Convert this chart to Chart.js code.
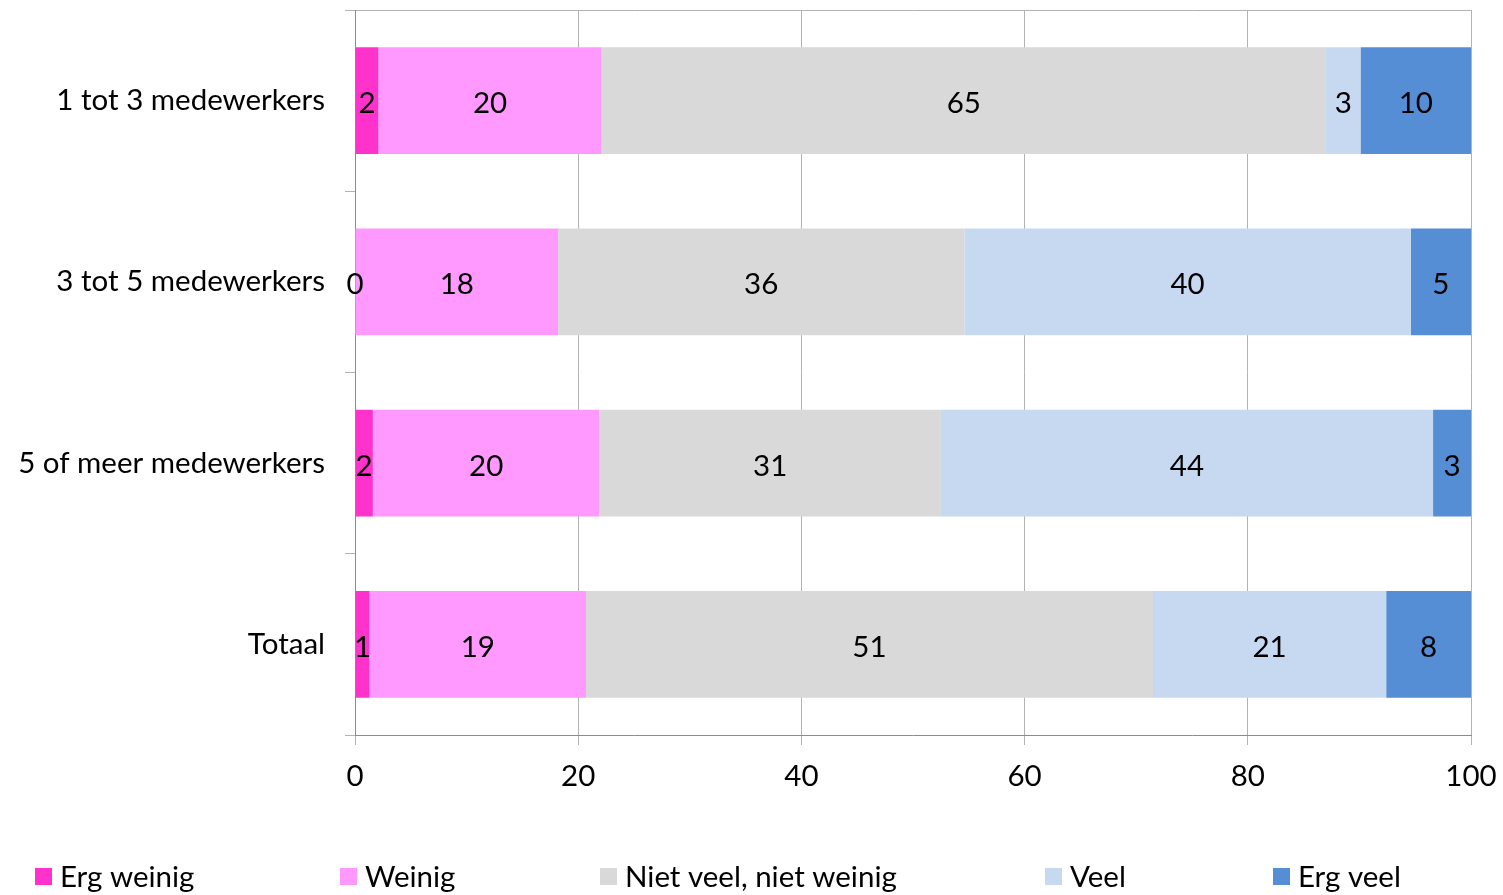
<!DOCTYPE html>
<html>
<head>
<meta charset="utf-8">
<script src="https://cdn.jsdelivr.net/npm/chart.js@4"></script>
<style>
    html, body { margin: 0; padding: 0; background: #fff; overflow: hidden; }
    #wrap { position: relative; width: 1503px; height: 895px; }
</style>
</head>
<body>
<div id="wrap"><canvas id="chart" width="1503" height="895"></canvas></div>
<script>
// Categorieën en reeksen (percentages)
const categorieen = ['1 tot 3 medewerkers', '3 tot 5 medewerkers', '5 of meer medewerkers', 'Totaal'];
const reeksNamen = ['Erg weinig', 'Weinig', 'Niet veel, niet weinig', 'Veel', 'Erg veel'];
const ergWeinig = [2.1, 0, 1.6, 1.3];
const weinig = [20.0, 18.2, 20.3, 19.4];
const nietVeelNietWeinig = [64.9, 36.4, 30.6, 50.8];
const veel = [3.1, 40.0, 44.1, 20.9];
const ergVeel = [9.9, 5.4, 3.4, 7.6];
const xTicks = [0, 20, 40, 60, 80, 100];

const kleuren = ['#FF33CC', '#FF99FF', '#D9D9D9', '#C6D9F1', '#558ED5'];
const legendaX = [35, 340, 600, 1045, 1273];
const FONT = 'Lato, "Open Sans", sans-serif';
const FSIZE = 29.5;

// Waarden in het midden van elk segment tekenen
const dataLabels = {
    id: 'dataLabels',
    afterDatasetsDraw(chart) {
        const ctx = chart.ctx;
        ctx.save();
        ctx.font = FSIZE + 'px ' + FONT;
        ctx.fillStyle = '#000';
        ctx.textAlign = 'center';
        ctx.textBaseline = 'middle';
        chart.data.datasets.forEach((ds, i) => {
            const meta = chart.getDatasetMeta(i);
            meta.data.forEach((bar, j) => {
                const x = (bar.x + bar.base) / 2;
                ctx.fillText(Math.round(ds.data[j]), x, bar.y + 3);
            });
        });
        ctx.restore();
    }
};

// Legenda onderaan, zoals in Excel
const legenda = {
    id: 'legenda',
    afterDraw(chart) {
        const ctx = chart.ctx;
        ctx.save();
        ctx.font = FSIZE + 'px ' + FONT;
        ctx.textBaseline = 'middle';
        reeksNamen.forEach((naam, i) => {
            const x = legendaX[i];
            ctx.fillStyle = kleuren[i];
            ctx.fillRect(x, 868, 17, 17);
            ctx.fillStyle = '#000';
            ctx.fillText(naam, x + 25, 877);
        });
        ctx.restore();
    }
};

const reeksen = [ergWeinig, weinig, nietVeelNietWeinig, veel, ergVeel];

new Chart(document.getElementById('chart'), {
    type: 'bar',
    data: {
        labels: categorieen,
        datasets: reeksen.map((d, i) => ({
            label: reeksNamen[i],
            data: d,
            backgroundColor: kleuren[i],
            borderWidth: 0,
            categoryPercentage: 1,
            barPercentage: 0.59
        }))
    },
    options: {
        indexAxis: 'y',
        responsive: false,
        animation: false,
        devicePixelRatio: 1,
        layout: { padding: { top: 10, right: 32, left: 0, bottom: 0 } },
        plugins: {
            legend: { display: false },
            tooltip: { enabled: false }
        },
        scales: {
            x: {
                stacked: true,
                min: 0,
                max: 100,
                afterBuildTicks: (scale) => { scale.ticks = xTicks.map(v => ({ value: v })); },
                afterFit: (scale) => {
                    scale.height = 160;
                    scale.paddingLeft = 0;
                    scale.paddingRight = 0;
                },
                grid: { color: '#b3b3b3', tickLength: 10, tickColor: '#b3b3b3' },
                border: { color: '#8c8c8c' },
                ticks: { color: '#000', font: { size: FSIZE, family: FONT }, padding: 14, maxRotation: 0 }
            },
            y: {
                stacked: true,
                afterFit: (scale) => {
                    scale.width = 355;
                    scale.paddingTop = 0;
                    scale.paddingBottom = 0;
                },
                grid: {
                    offset: true,
                    tickLength: 10,
                    color: (c) => c.index === 0 ? '#b3b3b3' : 'rgba(0,0,0,0)',
                    tickColor: '#b3b3b3'
                },
                border: { color: '#8c8c8c' },
                ticks: { color: '#000', font: { size: FSIZE, family: FONT }, padding: 20 }
            }
        }
    },
    plugins: [dataLabels, legenda]
});
</script>
</body>
</html>
